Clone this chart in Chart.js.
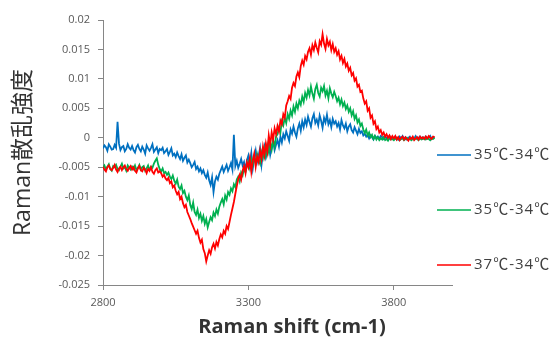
<!DOCTYPE html>
<html>
  <head>
    <title>Raman difference spectra</title>
    <script src="https://cdn.jsdelivr.net/npm/chart.js@4.4.0/dist/chart.umd.min.js"></script>
    <style>
      body { margin: 0; background: #fff; }
    </style>
  </head>

  <body>
    <canvas id="canvas" width="557" height="346"></canvas>
    <script>
      // Raman shift (cm-1), one point every 5
      const shift = [
        2800, 2805, 2810, 2815, 2820, 2825, 2830, 2835, 2840, 2845, 2850, 2855, 2860, 2865, 2870, 2875, 2880, 2885, 2890, 2895,
        2900, 2905, 2910, 2915, 2920, 2925, 2930, 2935, 2940, 2945, 2950, 2955, 2960, 2965, 2970, 2975, 2980, 2985, 2990, 2995,
        3000, 3005, 3010, 3015, 3020, 3025, 3030, 3035, 3040, 3045, 3050, 3055, 3060, 3065, 3070, 3075, 3080, 3085, 3090, 3095,
        3100, 3105, 3110, 3115, 3120, 3125, 3130, 3135, 3140, 3145, 3150, 3155, 3160, 3165, 3170, 3175, 3180, 3185, 3190, 3195,
        3200, 3205, 3210, 3215, 3220, 3225, 3230, 3235, 3240, 3245, 3250, 3255, 3260, 3265, 3270, 3275, 3280, 3285, 3290, 3295,
        3300, 3305, 3310, 3315, 3320, 3325, 3330, 3335, 3340, 3345, 3350, 3355, 3360, 3365, 3370, 3375, 3380, 3385, 3390, 3395,
        3400, 3405, 3410, 3415, 3420, 3425, 3430, 3435, 3440, 3445, 3450, 3455, 3460, 3465, 3470, 3475, 3480, 3485, 3490, 3495,
        3500, 3505, 3510, 3515, 3520, 3525, 3530, 3535, 3540, 3545, 3550, 3555, 3560, 3565, 3570, 3575, 3580, 3585, 3590, 3595,
        3600, 3605, 3610, 3615, 3620, 3625, 3630, 3635, 3640, 3645, 3650, 3655, 3660, 3665, 3670, 3675, 3680, 3685, 3690, 3695,
        3700, 3705, 3710, 3715, 3720, 3725, 3730, 3735, 3740, 3745, 3750, 3755, 3760, 3765, 3770, 3775, 3780, 3785, 3790, 3795,
        3800, 3805, 3810, 3815, 3820, 3825, 3830, 3835, 3840, 3845, 3850, 3855, 3860, 3865, 3870, 3875, 3880, 3885, 3890, 3895,
        3900, 3905, 3910, 3915, 3920, 3925, 3930, 3935, 3940
      ];

      // 35C-34C (blue)
      const diff35a = [
        -0.0018, -0.0013, -0.0016, -0.0022, -0.0011, -0.0015, -0.0020, -0.0019, -0.0012, -0.0017, 0.0027, -0.0010, -0.0021, -0.0016, -0.0014, -0.0023, -0.0019, -0.0011, -0.0017, -0.0020,
        -0.0014, -0.0021, -0.0025, -0.0016, -0.0012, -0.0019, -0.0023, -0.0015, -0.0020, -0.0027, -0.0013, -0.0018, -0.0022, -0.0017, -0.0011, -0.0024, -0.0020, -0.0016, -0.0026, -0.0019,
        -0.0021, -0.0017, -0.0026, -0.0023, -0.0019, -0.0029, -0.0024, -0.0018, -0.0030, -0.0027, -0.0033, -0.0025, -0.0031, -0.0036, -0.0028, -0.0039, -0.0034, -0.0030, -0.0042, -0.0037,
        -0.0043, -0.0050, -0.0046, -0.0041, -0.0053, -0.0049, -0.0057, -0.0052, -0.0060, -0.0055, -0.0063, -0.0068, -0.0059, -0.0072, -0.0080, -0.0067, -0.0092, -0.0074, -0.0066, -0.0071,
        -0.0061, -0.0055, -0.0049, -0.0058, -0.0052, -0.0046, -0.0056, -0.0050, -0.0043, -0.0054, 0.0005, -0.0048, -0.0039, -0.0051, -0.0044, -0.0036, -0.0047, -0.0041, -0.0055, -0.0038,
        -0.0030, -0.0045, -0.0026, -0.0052, -0.0035, -0.0022, -0.0041, -0.0031, -0.0018, -0.0046, -0.0027, -0.0015, -0.0033, -0.0024, -0.0010, -0.0029, -0.0017, -0.0006, -0.0021, -0.0012,
        -0.0004, -0.0015, 0.0002, -0.0008, 0.0006, -0.0001, 0.0011, 0.0003, -0.0005, 0.0014, 0.0007, 0.0019, 0.0009, 0.0002, 0.0016, 0.0024, 0.0012, 0.0028, 0.0018, 0.0031,
        0.0022, 0.0036, 0.0027, 0.0019, 0.0033, 0.0040, 0.0025, 0.0031, 0.0021, 0.0038, 0.0029, 0.0017, 0.0034, 0.0026, 0.0039, 0.0023, 0.0030, 0.0018, 0.0032, 0.0024,
        0.0028, 0.0019, 0.0025, 0.0014, 0.0030, 0.0021, 0.0016, 0.0024, 0.0011, 0.0019, 0.0023, 0.0013, 0.0009, 0.0018, 0.0012, 0.0006, 0.0015, 0.0008, 0.0011, 0.0004,
        0.0007, 0.0002, 0.0005, -0.0001, 0.0004, 0.0001, -0.0003, 0.0003, 0.0000, 0.0002, -0.0002, 0.0003, 0.0001, -0.0002, 0.0002, -0.0001, 0.0000, 0.0003, -0.0002, 0.0001,
        -0.0002, 0.0002, 0.0000, -0.0003, 0.0002, -0.0001, 0.0003, -0.0002, 0.0001, -0.0003, 0.0000, 0.0002, -0.0002, 0.0001, -0.0001, 0.0003, -0.0002, 0.0000, 0.0002, -0.0001,
        0.0001, -0.0002, 0.0002, -0.0001, 0.0000, 0.0003, -0.0002, 0.0001, 0.0000
      ];

      // 35C-34C (green)
      const diff35b = [
        -0.0051, -0.0047, -0.0054, -0.0049, -0.0045, -0.0053, -0.0056, -0.0048, -0.0050, -0.0046, -0.0053, -0.0055, -0.0049, -0.0044, -0.0052, -0.0050, -0.0056, -0.0047, -0.0051, -0.0054,
        -0.0049, -0.0053, -0.0047, -0.0055, -0.0051, -0.0046, -0.0054, -0.0050, -0.0048, -0.0056, -0.0052, -0.0047, -0.0055, -0.0049, -0.0051, -0.0044, -0.0039, -0.0035, -0.0046, -0.0053,
        -0.0057, -0.0052, -0.0060, -0.0058, -0.0063, -0.0059, -0.0066, -0.0070, -0.0064, -0.0073, -0.0078, -0.0071, -0.0083, -0.0087, -0.0081, -0.0094, -0.0090, -0.0100, -0.0106, -0.0098,
        -0.0114, -0.0121, -0.0110, -0.0126, -0.0131, -0.0122, -0.0136, -0.0129, -0.0141, -0.0133, -0.0146, -0.0138, -0.0152, -0.0143, -0.0135, -0.0140, -0.0127, -0.0133, -0.0122, -0.0129,
        -0.0117, -0.0110, -0.0104, -0.0113, -0.0098, -0.0105, -0.0092, -0.0097, -0.0086, -0.0091, -0.0079, -0.0084, -0.0071, -0.0066, -0.0074, -0.0059, -0.0064, -0.0052, -0.0058, -0.0047,
        -0.0041, -0.0052, -0.0037, -0.0046, -0.0032, -0.0043, -0.0028, -0.0038, -0.0044, -0.0025, -0.0034, -0.0019, -0.0030, -0.0013, -0.0024, -0.0009, -0.0020, -0.0004, -0.0015, 0.0002,
        0.0006, 0.0017, 0.0009, 0.0028, 0.0021, 0.0034, 0.0025, 0.0040, 0.0032, 0.0046, 0.0038, 0.0053, 0.0044, 0.0058, 0.0050, 0.0063, 0.0056, 0.0070, 0.0061, 0.0076,
        0.0068, 0.0081, 0.0072, 0.0087, 0.0075, 0.0066, 0.0083, 0.0090, 0.0076, 0.0070, 0.0085, 0.0079, 0.0088, 0.0072, 0.0080, 0.0067, 0.0084, 0.0075, 0.0069, 0.0078,
        0.0071, 0.0062, 0.0068, 0.0057, 0.0065, 0.0054, 0.0060, 0.0049, 0.0055, 0.0044, 0.0050, 0.0038, 0.0045, 0.0032, 0.0038, 0.0026, 0.0031, 0.0020, 0.0024, 0.0014,
        0.0008, 0.0014, 0.0004, 0.0009, 0.0001, 0.0005, -0.0002, 0.0003, -0.0003, 0.0001, -0.0004, -0.0001, -0.0003, 0.0001, -0.0004, -0.0002, -0.0005, -0.0001, -0.0003, -0.0002,
        -0.0004, -0.0001, -0.0003, 0.0000, -0.0004, -0.0002, -0.0001, -0.0004, -0.0002, 0.0000, -0.0003, -0.0001, -0.0004, -0.0002, -0.0003, 0.0000, -0.0002, -0.0004, -0.0001, -0.0003,
        -0.0002, 0.0000, -0.0003, -0.0001, -0.0002, -0.0004, -0.0001, -0.0002, 0.0000
      ];

      // 37C-34C (red)
      const diff37 = [
        -0.0049, -0.0054, -0.0057, -0.0050, -0.0047, -0.0053, -0.0055, -0.0051, -0.0046, -0.0054, -0.0058, -0.0052, -0.0049, -0.0055, -0.0050, -0.0047, -0.0053, -0.0056, -0.0051, -0.0048,
        -0.0054, -0.0050, -0.0056, -0.0059, -0.0052, -0.0048, -0.0055, -0.0057, -0.0051, -0.0054, -0.0060, -0.0053, -0.0056, -0.0050, -0.0058, -0.0061, -0.0055, -0.0052, -0.0059, -0.0057,
        -0.0060, -0.0066, -0.0063, -0.0069, -0.0072, -0.0068, -0.0077, -0.0074, -0.0084, -0.0081, -0.0090, -0.0096, -0.0092, -0.0104, -0.0100, -0.0111, -0.0118, -0.0114, -0.0126, -0.0132,
        -0.0138, -0.0145, -0.0151, -0.0157, -0.0163, -0.0158, -0.0170, -0.0178, -0.0173, -0.0189, -0.0196, -0.0210, -0.0200, -0.0191, -0.0197, -0.0186, -0.0180, -0.0188, -0.0177, -0.0183,
        -0.0172, -0.0164, -0.0169, -0.0158, -0.0163, -0.0150, -0.0155, -0.0143, -0.0131, -0.0120, -0.0109, -0.0095, -0.0082, -0.0070, -0.0063, -0.0071, -0.0056, -0.0048, -0.0060, -0.0042,
        -0.0050, -0.0035, -0.0058, -0.0039, -0.0027, -0.0049, -0.0032, -0.0041, -0.0022, -0.0036, -0.0015, -0.0030, -0.0010, -0.0024, 0.0004, -0.0012, 0.0009, -0.0003, 0.0016, 0.0006,
        0.0020, 0.0011, 0.0029, 0.0023, 0.0040, 0.0034, 0.0055, 0.0062, 0.0071, 0.0066, 0.0085, 0.0093, 0.0088, 0.0104, 0.0111, 0.0103, 0.0122, 0.0131, 0.0124, 0.0139,
        0.0133, 0.0146, 0.0152, 0.0141, 0.0157, 0.0149, 0.0162, 0.0153, 0.0145, 0.0164, 0.0158, 0.0176, 0.0160, 0.0151, 0.0168, 0.0157, 0.0163, 0.0149, 0.0159, 0.0146,
        0.0152, 0.0141, 0.0147, 0.0133, 0.0139, 0.0127, 0.0134, 0.0121, 0.0126, 0.0114, 0.0119, 0.0106, 0.0110, 0.0097, 0.0101, 0.0087, 0.0090, 0.0078, 0.0080, 0.0067,
        0.0058, 0.0062, 0.0046, 0.0050, 0.0034, 0.0038, 0.0024, 0.0028, 0.0015, 0.0019, 0.0009, 0.0013, 0.0005, 0.0009, 0.0002, 0.0006, 0.0000, 0.0004, -0.0002, 0.0003,
        -0.0001, 0.0003, -0.0003, 0.0001, -0.0004, 0.0000, 0.0002, -0.0003, 0.0001, -0.0002, -0.0005, 0.0000, -0.0002, 0.0002, -0.0004, -0.0001, 0.0001, -0.0003, 0.0002, -0.0001,
        0.0001, -0.0002, 0.0002, -0.0001, 0.0003, 0.0000, -0.0002, 0.0002, 0.0001
      ];

      const seriesLabels = ['35℃-34℃', '35℃-34℃', '37℃-34℃'];
      const xTicks = [2800, 3300, 3800];

      const toPoints = (ys) => ys.map((y, i) => ({ x: shift[i], y: y }));

      // legend on the right side plus the x title (drawn by hand, Excel-like placement)
      const sideLegend = {
        id: 'sideLegend',
        afterDraw(chart) {
          const ctx = chart.ctx;
          const rows = [155, 210, 265];
          ctx.save();
          ctx.font = '15px "Open Sans", "Noto Sans CJK JP", sans-serif';
          ctx.letterSpacing = '1px';
          ctx.textBaseline = 'middle';
          ctx.fillStyle = '#404040';
          chart.data.datasets.forEach((ds, i) => {
            const y = rows[i];
            ctx.strokeStyle = ds.borderColor;
            ctx.lineWidth = 1.5;
            ctx.beginPath();
            ctx.moveTo(437, y);
            ctx.lineTo(471, y);
            ctx.stroke();
            ctx.fillText(ds.label, 474, y);
          });
          ctx.letterSpacing = '0px';
          ctx.font = 'bold 20px "Open Sans", sans-serif';
          ctx.textAlign = 'center';
          ctx.fillStyle = '#333333';
          ctx.fillText('Raman shift (cm-1)', 292, 327);
          ctx.restore();
        },
      };

      const ctx = document.getElementById('canvas').getContext('2d');
      new Chart(ctx, {
        type: 'line',
        data: {
          datasets: [
            { label: seriesLabels[0], data: toPoints(diff35a), borderColor: '#0070C0', order: 3 },
            { label: seriesLabels[1], data: toPoints(diff35b), borderColor: '#00B050', order: 2 },
            { label: seriesLabels[2], data: toPoints(diff37), borderColor: '#FF0000', order: 1 },
          ],
        },
        options: {
          responsive: false,
          animation: false,
          layout: { padding: { top: 20, right: 105, left: 0, bottom: 0 } },
          elements: {
            point: { radius: 0 },
            line: { borderWidth: 1.8, tension: 0 },
          },
          plugins: {
            legend: { display: false },
            tooltip: { enabled: false },
          },
          scales: {
            x: {
              type: 'linear',
              min: 2800,
              max: 4000,
              afterBuildTicks: (s) => { s.ticks = xTicks.map((v) => ({ value: v })); },
              afterFit: (s) => { s.height = 61; },
              border: { color: '#868686' },
              grid: { drawOnChartArea: false, tickLength: 5, color: '#868686' },
              ticks: {
                padding: 6,
                color: '#595959',
                font: { family: 'Open Sans', size: 11 },
                callback: (v) => String(v),
              },
            },
            y: {
              min: -0.025,
              max: 0.02,
              afterFit: (s) => { s.width = 103; },
              border: { color: '#868686' },
              grid: { drawOnChartArea: false, tickLength: 5, color: '#868686' },
              ticks: {
                stepSize: 0.005,
                padding: 8,
                color: '#595959',
                font: { family: 'Open Sans', size: 11 },
                callback: (v) => String(+v.toFixed(3)),
              },
              title: {
                display: true,
                text: 'Raman散乱強度',
                color: '#333333',
                padding: { top: 10, bottom: 0 },
                font: { family: '"Open Sans", "Noto Sans CJK JP"', size: 23 },
              },
            },
          },
        },
        plugins: [sideLegend],
      });
    </script>
  </body>
</html>
